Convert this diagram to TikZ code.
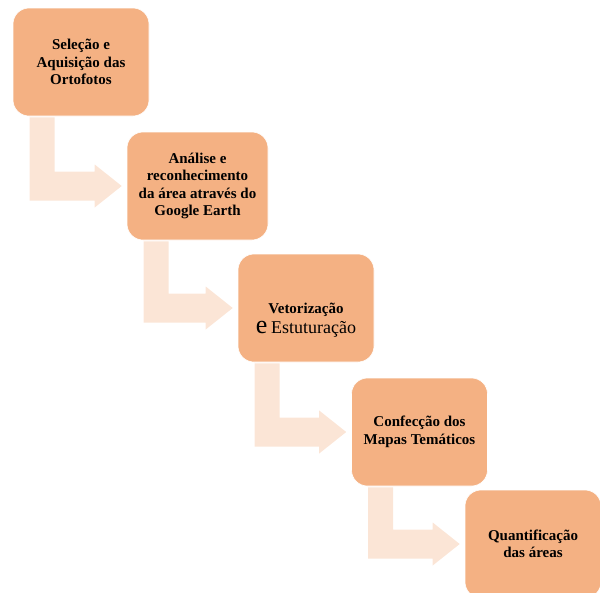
\documentclass[tikz,border=0pt]{standalone}
\usepackage{fontspec}
\setmainfont{Liberation Serif}
\usetikzlibrary{calc}
\definecolor{boxfill}{HTML}{F4B183}
\definecolor{arrowfill}{HTML}{FBE5D6}
\tikzset{
  stepbox/.style={rectangle, rounded corners=16pt, fill=boxfill, draw=white, line width=0.6pt,
    minimum width=136pt, minimum height=108pt, inner sep=0pt, align=center,
    font=\fontsize{15}{17.5}\selectfont\bfseries},
  bentarrow/.style={fill=arrowfill, draw=none}
}
\begin{document}
\begin{tikzpicture}[x=1pt,y=-1pt]
\useasboundingbox (0,0) rectangle (600,592);
\node[stepbox] (b1) at (81,62) {Seleção e\\Aquisição das\\Ortofotos};
\node[stepbox, minimum width=141pt] (b2) at (197.5,186) {Análise e\\reconhecimento\\da área através do\\Google Earth};
\node[stepbox] (b3) at (306,308) {};
\node[font=\fontsize{15}{17.5}\selectfont, align=center] (t3) at ($(b3.center)+(0,12)$)
  {\textbf{Vetorização}\\[2pt]{\fontsize{26}{20}\selectfont e} {\fontsize{18}{20}\selectfont Estuturação}};
\node[stepbox] (b4) at (419.5,432) {Confecção dos\\Mapas Temáticos};
\node[stepbox] (b5) at (533,544) {Quantificação\\das áreas};
\foreach \a/\b in {b1/b2,b2/b3,b3/b4,b4/b5}{
  \coordinate (s) at ($(\a.south west)+(17,1)$);
  \coordinate (t) at ($(\b.west)+(-5,0)$);
  \fill[bentarrow] (s) -- ($(s)+(25,0)$) -- ($(s |- t)+(25,-14.5)$) -- ($(t)+(-27,-14.5)$)
    -- ($(t)+(-27,-21.5)$) -- (t) -- ($(t)+(-27,21.5)$) -- ($(t)+(-27,14.5)$)
    -- ($(s |- t)+(0,14.5)$) -- cycle;
}
\end{tikzpicture}
\end{document}
